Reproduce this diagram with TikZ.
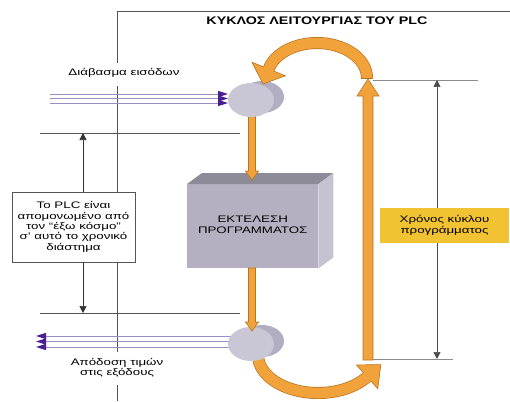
\documentclass[tikz,border=0pt]{standalone}
\usepackage{fontspec}
\setmainfont[FakeStretch=1.4]{Liberation Sans}
\newfontfamily\titlefont[FakeStretch=1.3]{Liberation Sans}
\usetikzlibrary{arrows.meta}
\definecolor{orfill}{HTML}{F2A23A}
\definecolor{ordark}{HTML}{B8741E}
\definecolor{cylfront}{HTML}{C9C6D6}
\definecolor{cylback}{HTML}{B2AEC2}
\definecolor{boxfront}{HTML}{B4B0C1}
\definecolor{boxtop}{HTML}{8E8B99}
\definecolor{boxside}{HTML}{C6C3D1}
\definecolor{purp}{HTML}{4A1F90}
\definecolor{purpline}{HTML}{9A8CC4}
\definecolor{yelbox}{HTML}{F1C232}
\definecolor{framecol}{HTML}{555555}
\tikzset{
  frame/.style={draw=framecol, line width=0.7pt},
  thin gray/.style={draw=black!45, line width=0.7pt},
  dimarrow/.style={draw=black!80, line width=0.7pt, -{Triangle[length=7pt,width=7pt]}},
  dimboth/.style={draw=black!70, line width=0.7pt, {Triangle[length=7pt,width=7pt]}-{Triangle[length=7pt,width=7pt]}},
  orblock/.style={fill=orfill, draw=ordark, line width=0.6pt},
  lbl/.style={font=\fontsize{9.5}{10.3}\selectfont, align=center, inner sep=0pt},
  sigline/.style={draw=purpline, line width=0.8pt},
  cyl/.pic={
    \fill[cylback] (11,-3) ellipse [x radius=22, y radius=16];
    \fill[cylfront] (0,0) ellipse [x radius=23, y radius=17];
  }
}
\begin{document}
\begin{tikzpicture}[x=1pt,y=-1pt]
\useasboundingbox (0,0) rectangle (510,401);
\fill[white] (0,0) rectangle (510,401);

% title and frame
\node[font=\titlefont\bfseries\fontsize{11}{12}\selectfont, inner sep=0pt] (title) at (317,21) {ΚΥΚΛΟΣ ΛΕΙΤΟΥΡΓΙΑΣ ΤΟΥ PLC};
\coordinate (fr) at (117,11);
\draw[frame] (510,11) -- (fr) -- (117,63);

% labels
\node[lbl] (readlbl) at (124,73) {Διάβασμα εισόδων};
\node[lbl] (writelbl) at (117,368) {Απόδοση τιμών\\στις εξόδους};

% isolation note
\node[draw=framecol, line width=0.7pt, fill=white, minimum width=123, minimum height=70, lbl] (note) at (73.5,227)
  {Το PLC είναι\\απομονωμένο από\\τον “έξω κόσμο”\\σ’ αυτό το χρονικό\\διάστημα};
\draw[frame] (117,86) -- (fr |- note.north);
\draw[frame] (fr |- note.south) -- (117,352);
\draw[frame] (117,385) -- (117,401);

% horizontal limits and arrows
\draw[frame] (40,133) -- (240,133);
\draw[frame] (40,313) -- (240,313);
\coordinate (ax) at (83,133);
\coordinate (bx) at (83,313);
\draw[dimarrow] (ax |- note.north) -- (ax);
\draw[dimarrow] (bx |- note.south) -- (bx);

% program execution box
\node[fill=boxfront, minimum width=131, minimum height=84, inner sep=0pt, anchor=north west, lbl] (exec) at (187,184) {};
\node[lbl, font=\fontsize{9.5}{11}\selectfont] at ([yshift=1]exec.center) {ΕΚΤΕΛΕΣΗ\\ΠΡΟΓΡΑΜΜΑΤΟΣ};
\fill[boxtop] (exec.north west) -- ++(15,-11) -- ([shift={(15,-11)}]exec.north east) -- (exec.north east) -- cycle;
\fill[boxside] (exec.north east) -- ++(15,-11) -- ([shift={(15,-11)}]exec.south east) -- (exec.south east) -- cycle;

% input signal lines
\foreach \yy in {94,98.5,103} {
  \draw[sigline] (50,\yy) -- (220,\yy);
  \fill[purp] (218,\yy-3.2) -- (228,\yy) -- (218,\yy+3.2) -- cycle;
}
% output signal lines
\foreach \yy in {336,341.5,347} {
  \draw[sigline] (232,\yy) -- (42,\yy);
  \fill[purp] (46,\yy-3.2) -- (36,\yy) -- (46,\yy+3.2) -- cycle;
}

% arrow from input stage into execution
\path[orblock] (248.5,108) -- (255.5,108) -- (255.5,171) -- (258.5,171) -- (252,180) -- (245.5,171) -- (248.5,171) -- cycle;
\pic at (251,100) {cyl};
\coordinate (topcyl) at (251,100);

% bottom arc (from output stage to cycle arrow)
\draw[ordark, line width=12pt] (258,355) arc[start angle=180, end angle=35, x radius=60, y radius=38];
\draw[orfill, line width=10.6pt] (258,355) arc[start angle=180, end angle=35, x radius=60, y radius=38];
\path[orblock] (377.8,388.7) -- (380.8,364.6) -- (356.4,364.9) -- cycle;
\draw[orfill, line width=10.6pt] (366.4,377.5) -- (367.8,376.2);

\pic at (251,344) {cyl};
\coordinate (botcyl) at (251,344);
\path[orblock] (248.5,268) -- (255.5,268) -- (255.5,322) -- (258.5,322) -- (252,331) -- (245.5,322) -- (248.5,322) -- cycle;

% right cycle arrow
\path[orblock] (363,360) -- (363,96) -- (357,96) -- (368,79) -- (379,96) -- (373,96) -- (373,360) -- cycle;

% top arc
\draw[ordark, line width=12pt] (367,78) arc[start angle=0, end angle=-165, x radius=50, y radius=35];
\draw[orfill, line width=10.6pt] (367,78) arc[start angle=0, end angle=-165, x radius=50, y radius=35];
\path[orblock] (285.4,75.8) -- (263,84) -- (252,62.2) -- cycle;
\draw[orfill, line width=10.6pt] (269.1,68.1) -- (268.5,69.8);
\draw[ordark, line width=0.6pt] (361,78) -- (373,78);

% cycle time dimension
\draw[thin gray] (373,80) -- (478,80);
\draw[thin gray] (373,359) -- (453,359);
\coordinate (dtop) at (437,80);
\coordinate (dbot) at (437,359);
\draw[dimboth] (dtop) -- (dbot);
\node[fill=yelbox, minimum width=129, minimum height=35, lbl] (cyc) at (444.5,225.5) {Χρόνος κύκλου\\προγράμματος};
\end{tikzpicture}
\end{document}
